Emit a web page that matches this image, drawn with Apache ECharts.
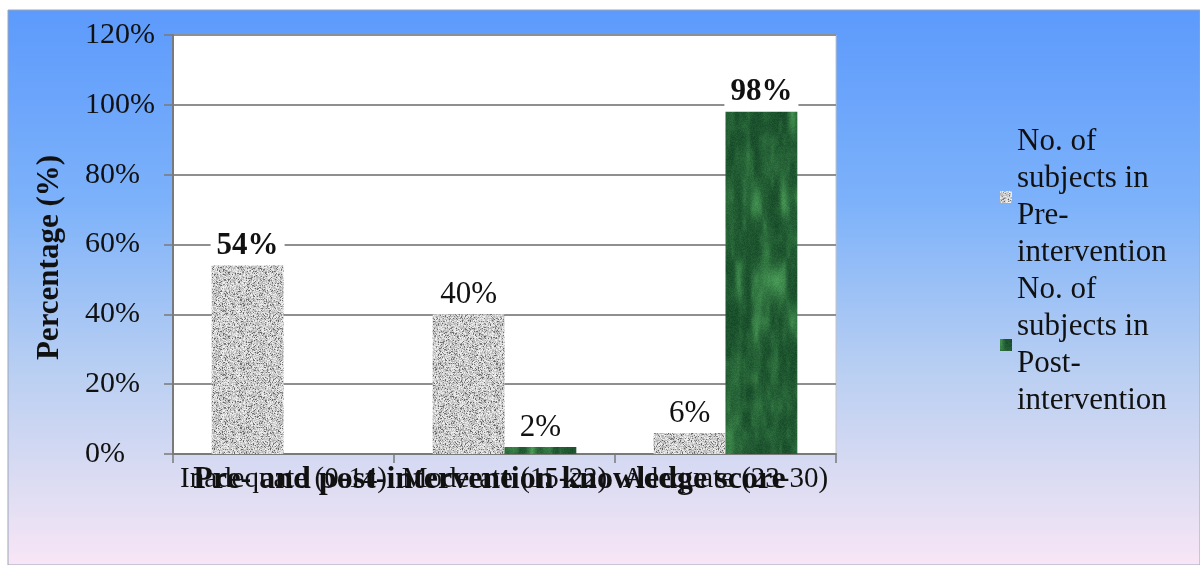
<!DOCTYPE html>
<html>
<head>
<meta charset="utf-8">
<style>
  html, body { margin: 0; padding: 0; background: #ffffff; }
  #chart { width: 1200px; height: 565px; }
</style>
<script src="https://cdn.jsdelivr.net/npm/echarts@6/dist/echarts.min.js"></script>
</head>
<body>
<div id="chart"></div>
<script>
// Knowledge score groups and the share of subjects in each, before and after the intervention
const categories = ['Inadequate (0-14)', 'Moderate (15-22)', 'Adequate (23-30)'];
const preValues = [54, 40, 6];
const postValues = [0, 2, 98];
const seriesNames = ['No. of subjects in Pre-intervention', 'No. of subjects in Post-intervention'];
const yTicks = [0, 20, 40, 60, 80, 100, 120];

const FONT = '"Liberation Serif", "DejaVu Serif", serif';

// Small deterministic hash so the fill textures look the same on every load
function hash(x, y, s) {
  let h = (x * 374761393 + y * 668265263 + s * 2147483647) | 0;
  h = (h ^ (h >>> 13)) * 1274126177 | 0;
  h = h ^ (h >>> 16);
  return (h >>> 0) / 4294967295;
}

// Smooth value noise on a stretched grid (cells cw x ch), used for marble veining
function valueNoise(x, y, cw, ch, s) {
  const gx = x / cw, gy = y / ch;
  const x0 = Math.floor(gx), y0 = Math.floor(gy);
  const fx = gx - x0, fy = gy - y0;
  const sx = fx * fx * (3 - 2 * fx), sy = fy * fy * (3 - 2 * fy);
  const a = hash(x0, y0, s), b = hash(x0 + 1, y0, s);
  const c = hash(x0, y0 + 1, s), d = hash(x0 + 1, y0 + 1, s);
  const top = a + (b - a) * sx, bottom = c + (d - c) * sx;
  return top + (bottom - top) * sy;
}

// Paint a canvas pixel by pixel from a colour function
function paintTexture(w, h, colourAt) {
  const c = document.createElement('canvas');
  c.width = w; c.height = h;
  const ctx = c.getContext('2d');
  const img = ctx.createImageData(w, h);
  for (let y = 0; y < h; y++) {
    for (let x = 0; x < w; x++) {
      const rgb = colourAt(x, y);
      const k = (y * w + x) * 4;
      img.data[k] = rgb[0]; img.data[k + 1] = rgb[1]; img.data[k + 2] = rgb[2]; img.data[k + 3] = 255;
    }
  }
  ctx.putImageData(img, 0, 0);
  return c;
}

// Granite-like grey speckle for the pre-intervention bars
function graniteTexture() {
  return paintTexture(64, 64, (x, y) => {
    const r = hash(x, y, 7);
    let g = 160 + Math.round(r * 85);
    if (r < 0.15) g = 95 + Math.round(r * 300);
    return [g, g, g];
  });
}

// Dark green mottled marble for the post-intervention bars (one tile covers the whole plot)
function marbleTexture() {
  return paintTexture(860, 470, (x, y) => {
    const big = valueNoise(x, y, 9, 40, 11);
    const mid = valueNoise(x, y, 4, 14, 5);
    const fine = hash(x, y, 3);
    const t = Math.min(1, Math.pow(big, 3) * 0.7 + Math.pow(mid, 2) * 0.25 + fine * 0.18);
    return [Math.round(20 + t * 60), Math.round(70 + t * 95), Math.round(38 + t * 55)];
  });
}

const preFill = { image: graniteTexture(), repeat: 'repeat' };
const postFill = { image: marbleTexture(), repeat: 'repeat' };

const labelBase = {
  show: true,
  position: 'top',
  distance: 4,
  fontFamily: FONT,
  fontSize: 31,
  color: '#111',
  formatter: p => (p.value > 0 ? p.value + '%' : '')
};

// The two headline values get bold labels on a white plate
const strongLabel = { fontWeight: 'bold', backgroundColor: '#ffffff', padding: [0, 6, 0, 6] };
const preData = preValues.map((v, i) => (i === 0 ? { value: v, label: strongLabel } : v));
const postData = postValues.map((v, i) => (i === 2 ? { value: v, label: strongLabel } : v));

const chart = echarts.init(document.getElementById('chart'), null, { renderer: 'canvas' });

chart.setOption({
  backgroundColor: '#ffffff',
  animation: false,
  graphic: [{
    type: 'rect',
    z: -10,
    shape: { x: 8, y: 10, width: 1192, height: 555 },
    style: {
      fill: new echarts.graphic.LinearGradient(0, 0, 0, 1, [
        { offset: 0, color: '#5c9afc' },
        { offset: 0.35, color: '#7db2fa' },
        { offset: 0.65, color: '#b9cff2' },
        { offset: 0.85, color: '#dcdcf2' },
        { offset: 1, color: '#f8e6f6' }
      ]),
      stroke: '#9aa6b8',
      lineWidth: 1
    }
  }],
  grid: {
    left: 173,
    right: 364,
    top: 35,
    bottom: 111,
    show: true,
    backgroundColor: '#ffffff',
    borderColor: '#c4c4c4',
    borderWidth: 1
  },
  legend: {
    orient: 'vertical',
    left: 995,
    top: 118,
    itemGap: 0,
    itemWidth: 12,
    itemHeight: 12,
    icon: 'rect',
    data: seriesNames,
    formatter: n => n.replace('No. of ', 'No. of\n').replace(' in ', ' in\n').replace('-', '-\n'),
    textStyle: { fontFamily: FONT, fontSize: 31, lineHeight: 37, color: '#111' }
  },
  xAxis: {
    type: 'category',
    data: categories,
    name: 'Pre- and post-intervention knowledge score',
    nameLocation: 'middle',
    nameGap: 10,
    nameMoveOverlap: false,
    nameTextStyle: {
      fontFamily: FONT, fontSize: 32, fontWeight: 'bold', color: '#111',
      verticalAlign: 'top', padding: [0, 30, 0, 0]
    },
    axisLine: { lineStyle: { color: '#7a7a7a', width: 2 } },
    axisTick: { show: true, length: 9, lineStyle: { color: '#7a7a7a', width: 1.5 } },
    axisLabel: {
      margin: 11, fontFamily: FONT, fontSize: 29, color: '#111', interval: 0
    }
  },
  yAxis: {
    type: 'value',
    min: yTicks[0],
    max: yTicks[yTicks.length - 1],
    interval: yTicks[1] - yTicks[0],
    name: 'Percentage (%)',
    nameLocation: 'middle',
    nameGap: 108,
    nameRotate: 90,
    nameMoveOverlap: false,
    nameTextStyle: {
      fontFamily: FONT, fontSize: 31, fontWeight: 'bold', color: '#111',
      padding: [0, 26, 0, 0]
    },
    axisLine: { show: true, lineStyle: { color: '#7a7a7a', width: 2 } },
    axisTick: { show: true, length: 9, lineStyle: { color: '#7a7a7a', width: 1.5 } },
    splitLine: { lineStyle: { color: '#8f8f8f', width: 2 } },
    axisLabel: {
      align: 'left',
      margin: 88,
      fontFamily: FONT,
      fontSize: 30,
      color: '#111',
      formatter: v => v + '%'
    }
  },
  series: [
    {
      name: seriesNames[0],
      type: 'bar',
      data: preData,
      barGap: '0%',
      barCategoryGap: '35%',
      itemStyle: { color: preFill },
      label: labelBase
    },
    {
      name: seriesNames[1],
      type: 'bar',
      data: postData,
      itemStyle: { color: postFill },
      label: labelBase
    }
  ]
});
</script>
</body>
</html>
